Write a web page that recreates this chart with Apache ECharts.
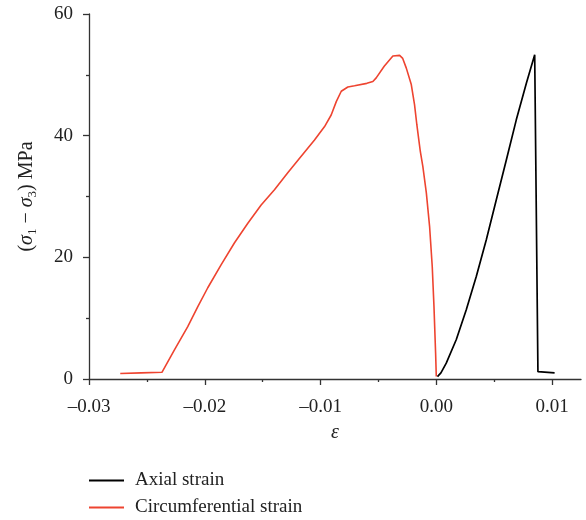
<!DOCTYPE html>
<html>
<head>
<meta charset="utf-8">
<script src="https://cdn.jsdelivr.net/npm/echarts@6/dist/echarts.min.js"></script>
<style>html,body{margin:0;padding:0;background:#fff}#c{width:586px;height:520px}</style>
</head>
<body>
<div id="c"></div>
<script>
var circX = [-0.0273, -0.0255, -0.0237, -0.02262, -0.02147, -0.0206, -0.01974, -0.01858, -0.01743, -0.01628, -0.01513, -0.01398, -0.01283, -0.01167, -0.01052, -0.00965, -0.00908, -0.00864, -0.00821, -0.00764, -0.00706, -0.0060, -0.00548, -0.00519, -0.0045, -0.00375, -0.00317, -0.0029, -0.00259, -0.00216, -0.00188, -0.00168, -0.00153, -0.00138, -0.00116, -0.00086, -0.00058, -0.00035, -0.0002, -0.00006, 0.0];
var circY = [0.9, 1.0, 1.1, 4.8, 8.6, 11.9, 15.0, 18.8, 22.4, 25.6, 28.6, 31.1, 33.9, 36.6, 39.3, 41.5, 43.4, 45.6, 47.3, 48.0, 48.2, 48.6, 48.9, 49.5, 51.4, 53.1, 53.2, 52.7, 51.1, 48.4, 45.1, 41.8, 39.6, 37.4, 34.9, 30.6, 25.1, 18.5, 11.9, 4.3, 0.4];
var axialX = [0.0001, 0.0004, 0.00086, 0.00173, 0.00259, 0.00346, 0.00432, 0.00519, 0.00605, 0.00691, 0.00778, 0.0085, 0.00864, 0.00878, 0.01022];
var axialY = [0.4, 1.0, 2.6, 6.5, 11.4, 16.9, 22.9, 29.5, 36.0, 42.6, 48.6, 53.3, 53.2, 1.2, 1.0];
var xMajor = [-0.03, -0.02, -0.01, 0, 0.01];
var xMinor = [-0.025, -0.015, -0.005, 0.005];
var yTicks = [0, 20, 40, 60];

function pairs(xs, ys){ return xs.map(function(x,i){ return [x, ys[i]]; }); }
var FONT = 'Liberation Serif';
var axisCol = '#333333';

var chart = echarts.init(document.getElementById('c'), null, {renderer:'canvas'});
chart.setOption({
  animation: false,
  backgroundColor: '#ffffff',
  grid: {left: 89, right: 5, top: 14, bottom: 141, containLabel: false},
  legend: {
    orient: 'vertical', left: 89, top: 470, padding: 0, itemWidth: 35, itemHeight: 2, itemGap: 6,
    icon: 'rect',
    textStyle: {fontFamily: FONT, fontSize: 19, color: '#222', padding: [0,0,0,6], lineHeight: 21},
    data: ['Axial strain', 'Circumferential strain']
  },
  xAxis: [{
    type: 'value', min: -0.03, max: 0.0125,
    name: 'ε', nameLocation: 'middle', nameGap: 44,
    nameTextStyle: {fontFamily: FONT, fontSize: 20, fontStyle: 'italic', color: '#222'},
    axisLine: {show: true, onZero: false, lineStyle: {color: axisCol, width: 1.3}},
    axisTick: {show: true, length: 6, customValues: xMajor, lineStyle: {color: axisCol, width: 1.3}},
    axisLabel: {customValues: xMajor, margin: 19, fontFamily: FONT, fontSize: 19, color: '#222',
      formatter: function(v){ var s = Math.abs(v).toFixed(2); return (v < -1e-9 ? '\u2013' : '') + s; }},
    splitLine: {show: false}
  }, {
    type: 'value', min: -0.03, max: 0.0125, position: 'bottom',
    axisLine: {show: false, onZero: false},
    axisTick: {show: true, length: 3, customValues: xMinor, lineStyle: {color: axisCol, width: 1.3}},
    axisLabel: {show: false},
    splitLine: {show: false}
  }],
  yAxis: {
    type: 'value', min: 0, max: 60, interval: 20,
    name: '({i|σ}{s|1} − {i|σ}{s|3}) MPa', nameLocation: 'middle', nameGap: 50,
    nameTextStyle: {fontFamily: FONT, fontSize: 20, color: '#222', lineHeight: 24,
      rich: {
        i: {fontFamily: FONT, fontSize: 20, fontStyle: 'italic', color: '#222', lineHeight: 24},
        s: {fontFamily: FONT, fontSize: 13, color: '#222', verticalAlign: 'bottom', lineHeight: 12}
      }},
    axisLine: {show: true, onZero: false, lineStyle: {color: axisCol, width: 1.3}},
    axisTick: {show: true, length: 6, lineStyle: {color: axisCol, width: 1.3}},
    minorTick: {show: true, splitNumber: 2, length: 3, lineStyle: {color: axisCol, width: 1.3}},
    axisLabel: {margin: 16, fontFamily: FONT, fontSize: 19, color: '#222',
      customValues: yTicks},
    splitLine: {show: false}
  },
  series: [{
    name: 'Axial strain', type: 'line', xAxisIndex: 0, symbol: 'none',
    lineStyle: {color: '#000000', width: 1.7}, itemStyle: {color: '#000000'},
    data: pairs(axialX, axialY)
  }, {
    name: 'Circumferential strain', type: 'line', xAxisIndex: 0, symbol: 'none',
    lineStyle: {color: '#EE4430', width: 1.6}, itemStyle: {color: '#EE4430'},
    data: pairs(circX, circY)
  }]
});
</script>
</body>
</html>
